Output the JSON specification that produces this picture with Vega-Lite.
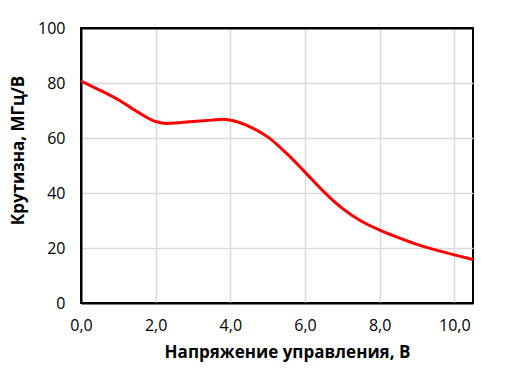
{
  "$schema": "https://vega.github.io/schema/vega-lite/v6.json",
  "width": 392,
  "height": 275,
  "autosize": {"type": "none"},
  "padding": {"left": 81, "top": 28, "right": 39, "bottom": 66},
  "config": {
    "view": {"stroke": "black", "strokeWidth": 2},
    "font": "Open Sans"
  },
  "data": {
    "values": [
      {"u": 0, "s": 80.7},
      {"u": 0.5, "s": 77.4},
      {"u": 1, "s": 73.9},
      {"u": 1.5, "s": 69.6},
      {"u": 2, "s": 66.0},
      {"u": 2.3, "s": 65.3},
      {"u": 3, "s": 66.0},
      {"u": 3.5, "s": 66.5},
      {"u": 3.8, "s": 66.8},
      {"u": 4.2, "s": 65.8},
      {"u": 4.6, "s": 63.6},
      {"u": 5, "s": 60.4},
      {"u": 5.5, "s": 54.5},
      {"u": 6, "s": 47.6},
      {"u": 6.5, "s": 40.5},
      {"u": 7, "s": 34.4},
      {"u": 7.5, "s": 29.8},
      {"u": 8, "s": 26.5},
      {"u": 8.5, "s": 23.8},
      {"u": 9, "s": 21.3},
      {"u": 9.5, "s": 19.3},
      {"u": 10, "s": 17.5},
      {"u": 10.5, "s": 15.8}
    ]
  },
  "mark": {"type": "line", "color": "#ff0000", "strokeWidth": 3, "interpolate": "monotone", "clip": true},
  "encoding": {
    "x": {
      "field": "u", "type": "quantitative",
      "scale": {"domain": [0, 10.5], "nice": false, "zero": false},
      "axis": {
        "values": [0, 2, 4, 6, 8, 10],
        "labelExpr": "replace(format(datum.value, '.1f'), '.', ',')",
        "labelFlush": false,
        "title": "Напряжение управления, В",
        "titleFont": "Open Sans", "titleFontSize": 17, "titleFontWeight": "bold", "titleColor": "#000000",
        "titlePadding": 11, "titleX": 206,
        "labelFontSize": 16, "labelColor": "#000000", "labelPadding": 14,
        "domain": true, "domainColor": "black", "domainWidth": 2,
        "ticks": false,
        "grid": true,
        "gridColor": {"condition": {"test": "datum.value === 0", "value": "transparent"}, "value": "#d9d9d9"},
        "gridWidth": 1.5
      }
    },
    "y": {
      "field": "s", "type": "quantitative",
      "scale": {"domain": [0, 100], "nice": false},
      "axis": {
        "values": [0, 20, 40, 60, 80, 100],
        "title": "Крутизна, МГц/В",
        "titleFont": "Open Sans", "titleFontSize": 17, "titleFontWeight": "bold", "titleColor": "#000000",
        "titlePadding": 10, "titleY": 122,
        "labelFontSize": 16, "labelColor": "#000000", "labelPadding": 16,
        "domain": true, "domainColor": "black", "domainWidth": 2,
        "ticks": false,
        "grid": true,
        "gridColor": {"condition": [{"test": "datum.value === 100", "value": "black"}, {"test": "datum.value === 0", "value": "transparent"}], "value": "#d9d9d9"},
        "gridWidth": {"condition": {"test": "datum.value === 100", "value": 2}, "value": 1.5}
      }
    }
  }
}
